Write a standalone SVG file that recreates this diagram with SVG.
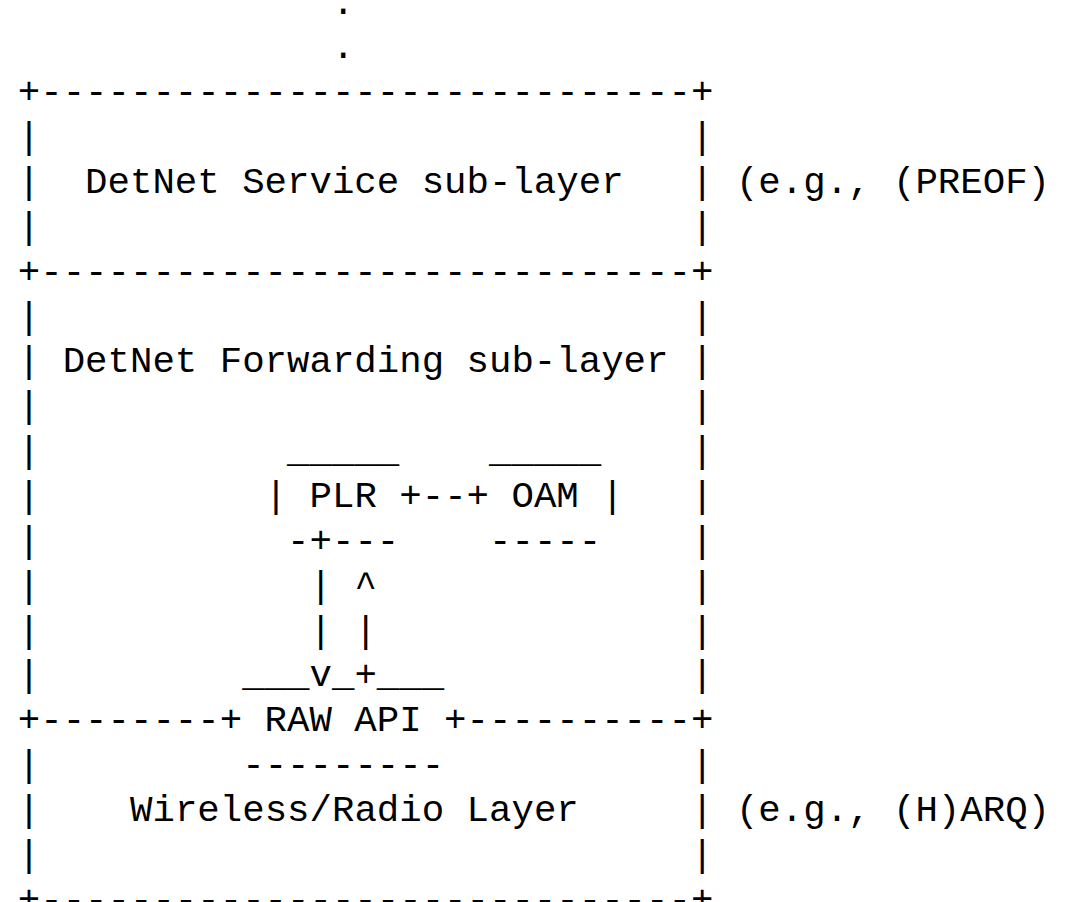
<svg xmlns="http://www.w3.org/2000/svg" width="1076" height="902" viewBox="0 0 1076 902" xml:space="preserve">
<style>
text { font-family: "Liberation Mono", "DejaVu Sans Mono", monospace; font-size: 37.4px; fill: #000; white-space: pre; }
</style>
<rect width="1076" height="902" fill="#fff"/>
<g id="dots">
<text x="331.96" y="13.6">.</text>
<text x="331.96" y="58.45">.</text>
</g>
<g id="service-layer">
<text x="17.8" y="103.3">+-----------------------------+</text>
<text x="17.8" y="148.15">|</text><text x="691" y="148.15">|</text>
<text x="17.8" y="193">|</text><text x="85.12" y="193">DetNet Service sub-layer</text><text x="691" y="193">|</text>
<text x="17.8" y="237.85">|</text><text x="691" y="237.85">|</text>
<text x="17.8" y="282.7">+-----------------------------+</text>
</g>
<g id="service-note">
<text x="735.88" y="193">(e.g., (PREOF)</text>
</g>
<g id="forwarding-layer">
<text x="17.8" y="327.55">|</text><text x="691" y="327.55">|</text>
<text x="17.8" y="372.4">|</text><text x="62.68" y="372.4">DetNet Forwarding sub-layer</text><text x="691" y="372.4">|</text>
<text x="17.8" y="417.25">|</text><text x="691" y="417.25">|</text>
<text x="17.8" y="462.1">|</text><text x="691" y="462.1">|</text>
<text x="17.8" y="506.95">|</text><text x="691" y="506.95">|</text>
<text x="17.8" y="551.8">|</text><text x="691" y="551.8">|</text>
<text x="17.8" y="596.65">|</text><text x="691" y="596.65">|</text>
<text x="17.8" y="641.5">|</text><text x="691" y="641.5">|</text>
<text x="17.8" y="686.35">|</text><text x="691" y="686.35">|</text>
</g>
<g id="plr">
<text x="287.08" y="462.1">_____</text>
<text x="264.64" y="506.95">| PLR</text>
<text x="287.08" y="551.8">-+---</text>
</g>
<g id="oam">
<text x="489.04" y="462.1">_____</text>
<text x="511.48" y="506.95">OAM |</text>
<text x="489.04" y="551.8">-----</text>
</g>
<g id="connectors">
<text x="399.28" y="506.95">+--+</text>
<text x="309.52" y="596.65">|</text><text x="354.4" y="596.65">^</text>
<text x="309.52" y="641.5">|</text><text x="354.4" y="641.5">|</text>
<text x="309.52" y="686.35">v</text><text x="354.4" y="686.35">+</text>
</g>
<g id="raw-api">
<text x="242.2" y="686.35">___</text><text x="331.96" y="686.35">_</text><text x="376.84" y="686.35">___</text>
<text x="17.8" y="731.2">+--------+ RAW API +----------+</text>
<text x="242.2" y="776.05">---------</text>
</g>
<g id="radio-layer">
<text x="17.8" y="776.05">|</text><text x="691" y="776.05">|</text>
<text x="17.8" y="820.9">|</text><text x="130" y="820.9">Wireless/Radio Layer</text><text x="691" y="820.9">|</text>
<text x="17.8" y="865.75">|</text><text x="691" y="865.75">|</text>
<text x="17.8" y="910.6">+-----------------------------+</text>
</g>
<g id="radio-note">
<text x="735.88" y="820.9">(e.g., (H)ARQ)</text>
</g>
</svg>
